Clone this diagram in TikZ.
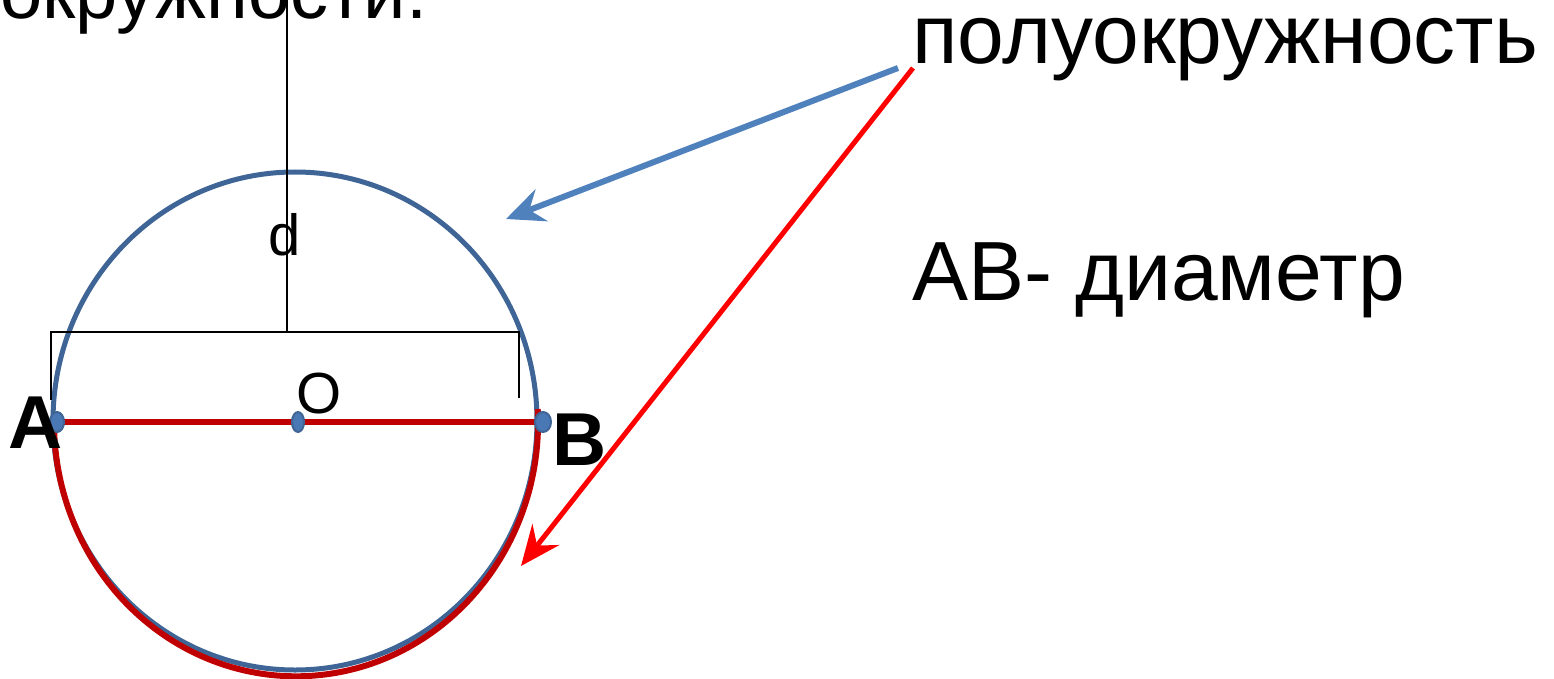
\documentclass[tikz,border=0pt]{standalone}
\usepackage{fontspec}
\setmainfont{Liberation Sans}
\usetikzlibrary{arrows.meta}
\definecolor{circblue}{HTML}{3E6595}
\definecolor{dotblue}{HTML}{4A78B4}
\definecolor{arrblue}{HTML}{4F81BD}
\definecolor{darkred}{HTML}{C00000}
\definecolor{brightred}{HTML}{FF0000}
\tikzset{
  lbl/.style={inner sep=0pt, outer sep=0pt, anchor=base west, font=\fontsize{#1}{#1}\selectfont},
  blbl/.style={inner sep=0pt, outer sep=0pt, anchor=base west, font=\fontsize{#1}{#1}\selectfont\bfseries},
  bracketline/.style={black, line width=2pt},
  pointdot/.style={fill=dotblue, draw=circblue, line width=2pt},
}
\begin{document}
\begin{tikzpicture}[x=1pt,y=-1pt]
\useasboundingbox (0,0) rectangle (1554,679);
\clip (0,0) rectangle (1554,679);
% key points
\coordinate (C) at (295,421);
\coordinate (A) at (55,422);
\coordinate (B) at (540,422);
\coordinate (O) at (298,422);
\coordinate (Bred) at (537.7,409);
% circle (blue) and lower semicircle (red)
\draw[circblue, line width=5pt] (C) ellipse [x radius=242, y radius=249];
\draw[darkred, line width=6pt] (Bred) arc[start angle=-3, end angle=180, x radius=242, y radius=254];
% diameter bracket
\coordinate (BL) at (51,400);
\coordinate (TL) at (51,332);
\coordinate (TR) at (519,332);
\coordinate (BR) at (519,398);
\coordinate (TM) at (287,332);
\coordinate (Top) at (287,-2);
\draw[bracketline] (BL) -- (TL) -- (TR) -- (BR);
\draw[bracketline] (TM) -- (Top);
% diameter
\draw[darkred, line width=6pt] (A) -- (B);
% points
\fill[pointdot] (57,422) ellipse [x radius=7, y radius=10];
\fill[pointdot] (O) ellipse [x radius=6, y radius=10];
\fill[pointdot] (543,422) ellipse [x radius=8, y radius=10];
% texts
\node[lbl=76] (top) at (0,19) {окружности.};
\node[lbl=84] (semi) at (912,64) {полуокружность};
\node[lbl=84] (diam) at (912,300) {AB- диаметр};
\node[lbl=58] (dlab) at (268,255) {d};
\node[lbl=58] (olab) at (296,413) {O};
\node[blbl=75] (alab) at (9,448) {A};
\node[blbl=75] (blab) at (552,465) {B};
% arrows
\coordinate (s1) at (898,68);
\coordinate (t1) at (506,219);
\coordinate (s2) at (913,68);
\coordinate (t2) at (521,566);
\draw[arrblue, line width=6pt, -{Stealth[length=38pt, width=34pt, inset=13pt]}] (s1) -- (t1);
\draw[brightred, line width=5pt, -{Stealth[length=40pt, width=34pt, inset=14pt]}] (s2) -- (t2);
\end{tikzpicture}
\end{document}
